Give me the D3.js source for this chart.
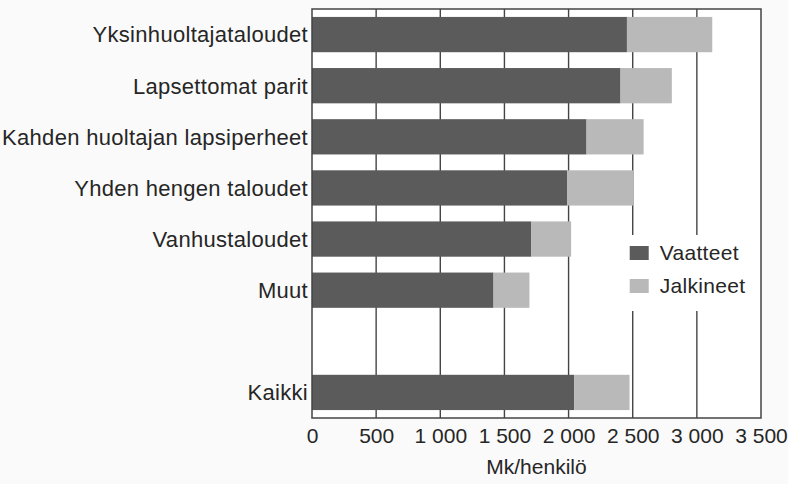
<!DOCTYPE html>
<html>
<head>
<meta charset="utf-8">
<script src="https://d3js.org/d3.v7.min.js"></script>
<style>
  body { margin: 0; background: #fafafa; }
  text { font-family: "Liberation Sans", Arial, sans-serif; fill: #262626; }
</style>
</head>
<body>
<div id="chart"></div>
<script>
// data (Mk/henkilö)
var categories = ["Yksinhuoltajataloudet", "Lapsettomat parit", "Kahden huoltajan lapsiperheet",
                  "Yhden hengen taloudet", "Vanhustaloudet", "Muut", "", "Kaikki"];
var vaatteet  = [2455, 2405, 2140, 1990, 1710, 1415, null, 2045];
var jalkineet = [ 665,  400,  445,  515,  310,  280, null,  430];
var seriesNames = ["Vaatteet", "Jalkineet"];
var xTicks = [0, 500, 1000, 1500, 2000, 2500, 3000, 3500];

var margin = {top: 9, right: 27, bottom: 66, left: 312},
    width = 788 - margin.left - margin.right,
    height = 484 - margin.top - margin.bottom;

var colors = ["#5b5b5b", "#b9b9b9"];

var svg = d3.select("#chart").append("svg")
    .attr("width", 788).attr("height", 484)
  .append("g")
    .attr("transform", "translate(" + margin.left + "," + margin.top + ")");

var x = d3.scaleLinear().domain([0, 3500]).range([0, width]);
var y = d3.scaleBand().domain(d3.range(categories.length)).range([0, height])
    .paddingInner(0.31).paddingOuter(0.155);

// plot area
svg.append("rect").attr("width", width).attr("height", height).attr("fill", "#fff");

// gridlines
svg.append("g").selectAll("line").data(xTicks.slice(1, -1)).enter().append("line")
    .attr("x1", d => x(d)).attr("x2", d => x(d))
    .attr("y1", 0).attr("y2", height)
    .attr("stroke", "#444").attr("stroke-width", 1.4);

// bars
var rows = categories.map(function(c, i) {
  return {i: i, v: vaatteet[i], j: jalkineet[i]};
}).filter(d => d.v != null);

svg.append("g").selectAll("rect").data(rows).enter().append("rect")
    .attr("x", 0).attr("y", d => y(d.i))
    .attr("width", d => x(d.v)).attr("height", y.bandwidth())
    .attr("fill", colors[0]);

svg.append("g").selectAll("rect").data(rows).enter().append("rect")
    .attr("x", d => x(d.v)).attr("y", d => y(d.i))
    .attr("width", d => x(d.v + d.j) - x(d.v)).attr("height", y.bandwidth())
    .attr("fill", colors[1]);

// legend (covers the gridlines behind it)
var legend = svg.append("g").attr("transform", "translate(" + (x(2500) - 10) + ",226)");
legend.append("rect").attr("width", 134).attr("height", 76).attr("fill", "#fff");
seriesNames.forEach(function(s, k) {
  var g = legend.append("g").attr("transform", "translate(7," + (11 + k * 33) + ")");
  g.append("rect").attr("width", 19).attr("height", 14).attr("fill", colors[k]);
  g.append("text").attr("x", 30).attr("y", 14).style("font-size", "21px")
      .style("letter-spacing", "0.3px").text(s);
});

// frame
svg.append("rect").attr("width", width).attr("height", height)
    .attr("fill", "none").attr("stroke", "#444").attr("stroke-width", 1.5);

// category labels
svg.append("g").selectAll("text").data(categories).enter().append("text")
    .attr("x", -4).attr("y", (d, i) => y(i) + y.bandwidth() / 2)
    .attr("dy", "0.36em").attr("text-anchor", "end")
    .style("font-size", "22px").style("letter-spacing", "0.3px").text(d => d);

// x axis
var xAxis = d3.axisBottom(x).tickValues(xTicks).tickSize(0).tickPadding(10)
    .tickFormat(d => d3.format(",")(d).replace(",", " "));
var ax = svg.append("g").attr("transform", "translate(0," + height + ")").call(xAxis);
ax.select(".domain").remove();
ax.selectAll("text").style("font-size", "21px").style("font-family", "Liberation Sans, Arial, sans-serif")
    .attr("fill", "#262626");

svg.append("text")
    .attr("x", width / 2).attr("y", height + 56)
    .attr("text-anchor", "middle").style("font-size", "21px")
    .text("Mk/henkilö");
</script>
</body>
</html>
